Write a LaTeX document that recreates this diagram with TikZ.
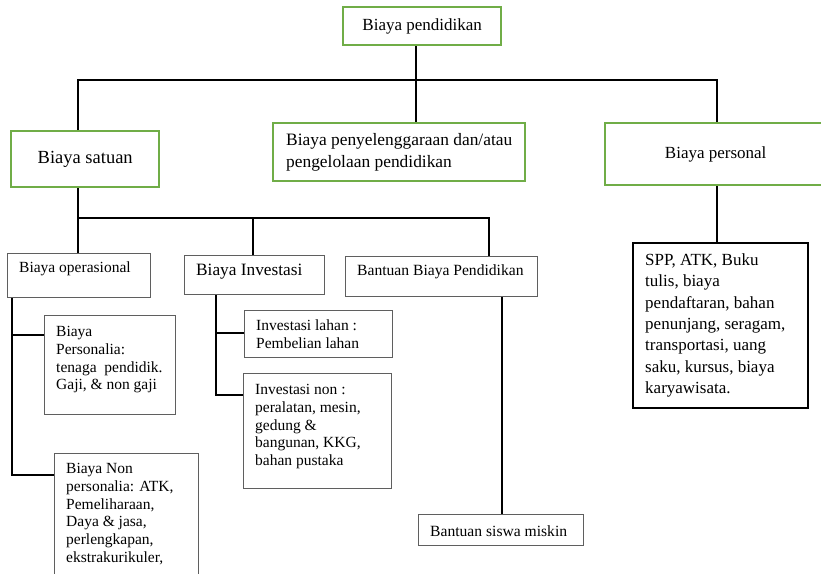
\documentclass[tikz,border=0pt]{standalone}
\usepackage{fontspec}
\setmainfont{Liberation Serif}
\definecolor{boxgreen}{RGB}{112,173,71}
\definecolor{boxgray}{RGB}{95,95,95}
\begin{document}
\begin{tikzpicture}[x=1pt,y=-1pt,
  greenbox/.style={draw=boxgreen, line width=2.4pt, fill=white, inner sep=0pt, anchor=north west},
  graybox/.style={draw=boxgray, line width=1.1pt, fill=white, inner sep=0pt, anchor=north west},
  blackbox/.style={draw=black, line width=2.4pt, fill=white, inner sep=0pt, anchor=north west},
  conn/.style={draw=black, line width=2.2pt},
  txt/.style={inner sep=0pt, align=left, anchor=north west},
  one/.style={inner sep=0pt, anchor=west},
  bigfont/.style={font=\fontsize{17}{22}\selectfont},
  smallfont/.style={font=\fontsize{15.5}{17.8}\selectfont},
  sppfont/.style={font=\fontsize{17}{21.3}\selectfont}]
\useasboundingbox (0,0) rectangle (821,573);

% coordinates for the connectors
\coordinate (bL) at (78,80);
\coordinate (bM) at (416,80);
\coordinate (bR) at (717,80);
\coordinate (sL) at (78,218);
\coordinate (sInv) at (253,218);
\coordinate (sR) at (489,218);
\coordinate (o1) at (12,335);
\coordinate (o2) at (12,475);
\coordinate (i1) at (216,333);
\coordinate (i2) at (216,395);
\coordinate (mx) at (502,0);

% boxes
\node[greenbox, minimum width=158pt, minimum height=38pt, bigfont] (top) at (342,6) {Biaya pendidikan};
\node[greenbox, minimum width=148pt, minimum height=56pt, font=\fontsize{18.5}{22}\selectfont] (satuan) at (10,130) {Biaya satuan};
\node[greenbox, minimum width=252pt, minimum height=58pt, align=left, font=\fontsize{17.4}{22}\selectfont] (pen) at (272,122) {Biaya penyelenggaraan dan/atau\\pengelolaan pendidikan};
\node[greenbox, minimum width=221pt, minimum height=62pt, bigfont] (personal) at (604,122) {Biaya personal};

\node[graybox, minimum width=143pt, minimum height=44pt] (op) at (7,253) {};
\node[graybox, minimum width=140pt, minimum height=39pt] (inv) at (184,255) {};
\node[graybox, minimum width=192pt, minimum height=40pt] (bbp) at (345,256) {};
\node[graybox, minimum width=131pt, minimum height=99pt] (bp) at (44,315) {};
\node[graybox, minimum width=144pt, minimum height=130pt] (bnp) at (54,453) {};
\node[graybox, minimum width=148pt, minimum height=47pt] (lahan) at (244,310) {};
\node[graybox, minimum width=148pt, minimum height=115pt] (non) at (243,373) {};
\node[graybox, minimum width=165pt, minimum height=31pt] (miskin) at (418,514) {};
\node[blackbox, minimum width=175pt, minimum height=165pt] (spp) at (632,242) {};

% texts
\node[one, smallfont] (opt) at (19,269) {Biaya operasional};
\node[one, font=\fontsize{17.3}{20}\selectfont] (invt) at (196,272) {Biaya Investasi};
\node[one, font=\fontsize{15.6}{18}\selectfont] (bbpt) at (357,272) {Bantuan Biaya Pendidikan};
\node[one, font=\fontsize{15.6}{18}\selectfont] (miskint) at (430,531) {Bantuan siswa miskin};
\node[txt, smallfont] (bpt) at (56,326) {Biaya\\Personalia:\\tenaga\ \ pendidik.\\Gaji, \& non gaji};
\node[txt, smallfont] (lahant) at (256,320) {Investasi lahan :\\Pembelian lahan};
\node[txt, smallfont] (nont) at (255,384) {Investasi non :\\peralatan, mesin,\\gedung \&\\bangunan, KKG,\\bahan pustaka};
\node[txt, smallfont] (bnpt) at (66,463) {Biaya Non\\personalia: ATK,\\Pemeliharaan,\\Daya \& jasa,\\perlengkapan,\\ekstrakurikuler,};
\node[txt, sppfont] (sppt) at (645,253.5) {SPP, ATK, Buku\\tulis, biaya\\pendaftaran, bahan\\penunjang, seragam,\\transportasi, uang\\saku, kursus, biaya\\karyawisata.};

% connectors
\draw[conn] (satuan.north -| bL) -- (bL) -- (bR) -- (personal.north -| bR);
\draw[conn] (top.south -| bM) -- (pen.north -| bM);
\draw[conn] (satuan.south -| sL) -- (sL) -- (sR) -- (bbp.north -| sR);
\draw[conn] (sL) -- (op.north -| sL);
\draw[conn] (sInv) -- (inv.north -| sInv);
\draw[conn] (op.south -| o1) -- (o2) -- (bnp.west |- o2);
\draw[conn] (o1) -- (bp.west |- o1);
\draw[conn] (inv.south -| i1) -- (i2) -- (non.west |- i2);
\draw[conn] (i1) -- (lahan.west |- i1);
\draw[conn] (bbp.south -| mx) -- (miskin.north -| mx);
\draw[conn] (personal.south -| bR) -- (spp.north -| bR);
\end{tikzpicture}
\end{document}
